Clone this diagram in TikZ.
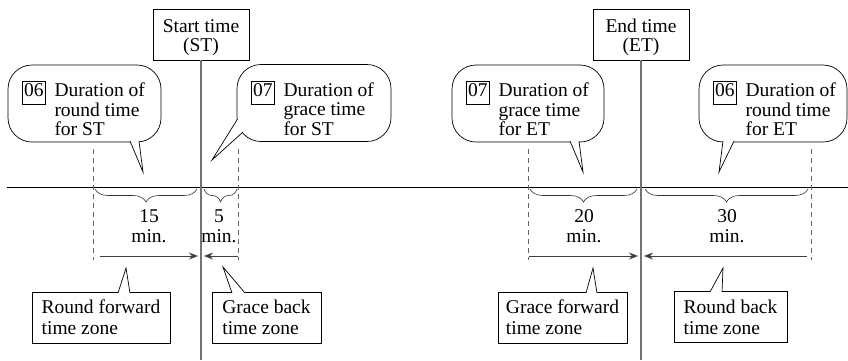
\documentclass[tikz,border=0pt]{standalone}
\usepackage{fontspec}
\setmainfont{Liberation Serif}
\usetikzlibrary{positioning,arrows.meta,decorations.pathreplacing}

\tikzset{
  bubble/.style={draw, rounded corners=24pt, minimum height=77pt, inner sep=0pt},
  bubtext/.style={inner sep=0pt, font=\fontsize{19.5pt}{19.5pt}\selectfont},
  timebox/.style={draw, align=center, minimum width=96pt, minimum height=51pt, inner sep=0pt, font=\fontsize{19.5pt}{19.5pt}\selectfont},
  zonebox/.style={draw, align=left, minimum height=51pt, inner sep=0pt, font=\fontsize{19.5pt}{21pt}\selectfont},
  amount/.style={align=center, inner sep=0pt, font=\fontsize{19.5pt}{19.5pt}\selectfont},
  timeline/.style={draw=black!55, line width=1.3pt},
  guide/.style={draw=black!60, dash pattern=on 5pt off 4pt, line width=0.8pt},
  span/.style={draw=black!75, line width=0.8pt, -{Stealth[length=9pt,width=7pt]}},
  lapse/.style={draw=black!80, line width=0.6pt, decorate, decoration={brace, mirror, amplitude=13pt}},
}
\newcommand{\codebox}[1]{{\setlength{\fboxsep}{1.5pt}\setlength{\fboxrule}{0.5pt}\fbox{\strut#1}}\hspace{9pt}}
\newcommand{\pointer}[3]{\fill[white] #1 -- #2 -- #3 -- cycle; \draw #1 -- #2 -- #3;}

\begin{document}
\begin{tikzpicture}[x=1pt, y=-1pt, font=\fontsize{19.5pt}{20pt}\selectfont, line width=0.7pt]
    \useasboundingbox (0,0) rectangle (848,360);

    % --- time axis, start time and end time ---
    \coordinate (axL) at (7,187);
    \coordinate (axR) at (848,187);
    \draw[line width=1pt] (axL) -- (axR);
    \node[timebox] (st) at (201,34.5) {\rule{0pt}{18.7pt}Start time\\(ST)};
    \node[timebox] (et) at (641,34.5) {\rule{0pt}{18.7pt}End time\\(ET)};
    \coordinate (stbot) at (201,360);
    \coordinate (etbot) at (641,360);
    \draw[timeline] (st.south) -- (stbot);
    \draw[timeline] (et.south) -- (etbot);

    % --- callouts above the axis ---
    \node[bubble, minimum width=153pt] (rst) at (84.5,103.5) {};
    \node[bubble, minimum width=154pt] (gst) at (314,103) {};
    \node[bubble, minimum width=152pt] (get) at (528,103.5) {};
    \node[bubble, minimum width=148pt] (ret) at (773,103.5) {};
    \pointer{(130,141)}{(143,172)}{(139,141)}
    \pointer{(237.5,119)}{(212,160)}{(243,132)}
    \pointer{(570,141)}{(583,172)}{(579,141)}
    \pointer{(723,141)}{(719,172)}{(734,141)}

    \node[bubtext, below right=16pt and 14pt of rst.north west] (rsttx)
        {\codebox{06}\begin{tabular}[t]{@{}l@{}}Duration of\\round time\\for ST\end{tabular}};
    \node[bubtext, below right=16pt and 14pt of gst.north west] (gsttx)
        {\codebox{07}\begin{tabular}[t]{@{}l@{}}Duration of\\grace time\\for ST\end{tabular}};
    \node[bubtext, below right=16pt and 14pt of get.north west] (gettx)
        {\codebox{07}\begin{tabular}[t]{@{}l@{}}Duration of\\grace time\\for ET\end{tabular}};
    \node[bubtext, below right=16pt and 14pt of ret.north west] (rettx)
        {\codebox{06}\begin{tabular}[t]{@{}l@{}}Duration of\\round time\\for ET\end{tabular}};

    % --- guides, braces and arrows below the axis ---
    \foreach \gx in {93,238,528,811}
        \draw[guide] (\gx,149) -- (\gx,260);

    \draw[lapse] (95,189) -- (197,189);
    \draw[lapse] (204,189) -- (237,189);
    \draw[lapse] (530,189) -- (637,189);
    \draw[lapse] (645,189) -- (808,189);

    \node[amount] (m15) at (149,226) {15\\min.};
    \node[amount] (m5) at (219,226) {5\\min.};
    \node[amount] (m20) at (584,226) {20\\min.};
    \node[amount] (m30) at (727,226) {30\\min.};

    \draw[span] (100,256) -- (198,256);
    \draw[span] (238,256) -- (204,256);
    \draw[span] (529,256) -- (638,256);
    \draw[span] (807,256) -- (644,256);

    % --- time zones at the bottom ---
    \node[zonebox, minimum width=138pt] (rfz) at (101,317.5) {Round forward\\time zone};
    \node[zonebox, minimum width=109pt] (gbz) at (266.5,317.5) {Grace back\\time zone};
    \node[zonebox, minimum width=129pt] (gfz) at (562.5,317.5) {Grace forward\\time zone};
    \node[zonebox, minimum width=113pt] (rbz) at (730.5,317) {Round back\\time zone};
    \pointer{(118,293)}{(126,268)}{(130,293)}
    \pointer{(232,293)}{(223,267)}{(245,293)}
    \pointer{(586,293)}{(593,268)}{(597,293)}
    \pointer{(710,292)}{(723,268)}{(722,292)}
\end{tikzpicture}
\end{document}
